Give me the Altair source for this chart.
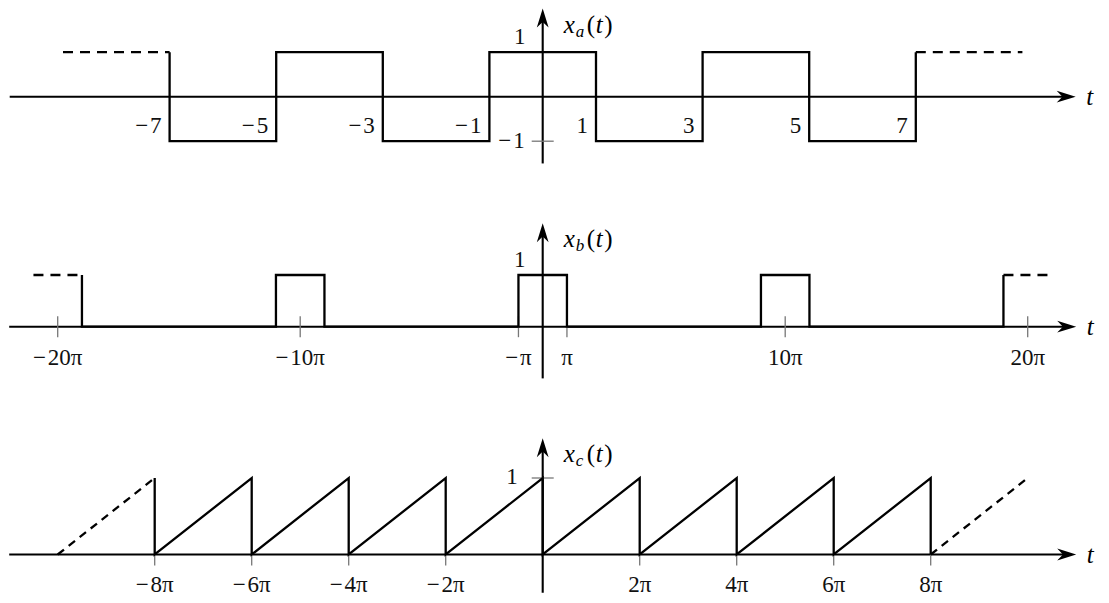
import altair as alt
import pandas as pd

# ---------------- data ----------------
# Panel (a): square wave x_a(t)
a_path_t = [-7, -7, -5, -5, -3, -3, -1, -1, 1, 1, 3, 3, 5, 5, 7, 7]
a_path_v = [1, -1, -1, 1, 1, -1, -1, 1, 1, -1, -1, 1, 1, -1, -1, 1]
a_dash_left_t = [-9, -7]
a_dash_left_v = [1, 1]
a_dash_right_t = [7, 9]
a_dash_right_v = [1, 1]
a_tick_t = [-7, -5, -3, -1, 1, 3, 5, 7]
a_tick_labels = ["−\u200a7", "−\u200a5", "−\u200a3", "−\u200a1", "1", "3", "5", "7"]
a_axis_t = [-10, 10]
a_axis_v = [-1.5, 1.98]
a_ytick_v = [-1]
a_ytick_labels = ["−\u200a1"]

# Panel (b): rectangular pulse train x_b(t), t in units of pi
b_path_t = [-19, -19, -11, -11, -9, -9, -1, -1, 1, 1, 9, 9, 11, 11, 19, 19]
b_path_v = [1, 0, 0, 1, 1, 0, 0, 1, 1, 0, 0, 1, 1, 0, 0, 1]
b_dash_left_t = [-21, -19]
b_dash_left_v = [1, 1]
b_dash_right_t = [19, 21]
b_dash_right_v = [1, 1]
b_tick_t = [-20, -10, -1, 1, 10, 20]
b_tick_labels = ["−\u200a20π", "−\u200a10π", "−\u200aπ", "π", "10π", "20π"]
b_axis_t = [-22, 22]
b_axis_v = [-1, 2]

# Panel (c): sawtooth x_c(t), t in units of pi
c_path_t = [-8, -8, -6, -6, -4, -4, -2, -2, 0, 0, 2, 2, 4, 4, 6, 6, 8, 8]
c_path_v = [1, 0, 1, 0, 1, 0, 1, 0, 1, 0, 1, 0, 1, 0, 1, 0, 1, 0]
c_dash_left_t = [-10, -8]
c_dash_left_v = [0, 1]
c_dash_right_t = [8, 10]
c_dash_right_v = [0, 1]
c_tick_t = [-8, -6, -4, -2, 2, 4, 6, 8]
c_tick_labels = ["−\u200a8π", "−\u200a6π", "−\u200a4π", "−\u200a2π", "2π", "4π", "6π", "8π"]
c_axis_t = [-11, 11]
c_axis_v = [-0.5, 1.52]
c_ytick_v = [1]
c_ytick_labels = ["1"]

# ---------------- layout helpers ----------------
W = 1090
PAGE_X0 = 8
FONT = "Liberation Serif"
FS = 23
ARROW_R = "M0,0 L-2,-0.62 L-1.4,0 L-2,0.62 Z"
ARROW_U = "M0,0 L-0.62,2 L0,1.4 L0.62,2 Z"
LW = 2.1


def dom_x(origin_px, ppu):
    return [(PAGE_X0 - origin_px) / ppu, (PAGE_X0 + W - origin_px) / ppu]


def dom_y(top_px, bottom_px, origin_px, ppu):
    return [(origin_px - bottom_px) / ppu, (origin_px - top_px) / ppu]


def panel(xd, yd, height, path_t, path_v, dashes, axis_t, axis_v, sub,
          dash_pattern, extra_layers_fn):
    xs = alt.Scale(domain=xd, nice=False, zero=False)
    ys = alt.Scale(domain=yd, nice=False, zero=False)

    def X(f="t"):
        return alt.X(f, type="quantitative", scale=xs, axis=None)

    def Y(f="v"):
        return alt.Y(f, type="quantitative", scale=ys, axis=None)

    layers = []
    hdf = pd.DataFrame({"t": [axis_t[0]], "t2": [axis_t[1]], "v": [0]})
    layers.append(alt.Chart(hdf).mark_rule(color="black", strokeWidth=LW, x2Offset=-11)
                  .encode(x=X(), x2="t2", y=Y()))
    layers.append(alt.Chart(pd.DataFrame({"t": [axis_t[1]], "v": [0]}))
                  .mark_point(shape=ARROW_R, size=361, filled=True, color="black", opacity=1)
                  .encode(x=X(), y=Y()))
    vdf = pd.DataFrame({"t": [0], "v": [axis_v[0]], "v2": [axis_v[1]]})
    layers.append(alt.Chart(vdf).mark_rule(color="black", strokeWidth=LW, y2Offset=11)
                  .encode(x=X(), y=Y(), y2="v2"))
    layers.append(alt.Chart(pd.DataFrame({"t": [0], "v": [axis_v[1]]}))
                  .mark_point(shape=ARROW_U, size=361, filled=True, color="black", opacity=1)
                  .encode(x=X(), y=Y()))
    layers += extra_layers_fn(X, Y)
    sdf = pd.DataFrame({"t": path_t, "v": path_v, "i": list(range(len(path_t)))})
    layers.append(alt.Chart(sdf).mark_line(color="black", strokeWidth=LW + 0.2,
                                           strokeJoin="miter", strokeCap="butt")
                  .encode(x=X(), y=Y(), order=alt.Order("i:Q")))
    for dt, dv in dashes:
        ddf = pd.DataFrame({"t": dt, "v": dv, "i": list(range(len(dt)))})
        layers.append(alt.Chart(ddf).mark_line(color="black", strokeWidth=LW + 0.2,
                                               strokeDash=dash_pattern, strokeCap="butt")
                      .encode(x=X(), y=Y(), order=alt.Order("i:Q")))
    layers.append(alt.Chart(pd.DataFrame({"t": [axis_t[1]], "v": [0], "s": ["t"]}))
                  .mark_text(font=FONT, fontSize=25, fontStyle="italic", dx=14,
                             align="center", baseline="middle", color="black")
                  .encode(x=X(), y=Y(), text="s:N"))
    parts = [("x", 25, 21, 0), (sub, 17, 33, 4), ("(", 25, 44, 0),
             ("t", 25, 53, 0), (")", 25, 61.5, 0)]
    for s, fs, dx, dyo in parts:
        style = "normal" if s in "()" else "italic"
        layers.append(alt.Chart(pd.DataFrame({"t": [0], "v": [axis_v[1]], "s": [s]}))
                      .mark_text(font=FONT, fontSize=fs, fontStyle=style, dx=dx, dy=24 + dyo,
                                 align="left", baseline="alphabetic", color="black")
                      .encode(x=X(), y=Y(), text="s:N"))
    return alt.layer(*layers).properties(width=W, height=height)


A_TOP, A_BOT = 8, 190
a_xd = dom_x(542.7, 53.3)
a_yd = dom_y(A_TOP, A_BOT, 96.7, 44.5)


def a_extra(X, Y):
    out = []
    ldf = pd.DataFrame({"t": a_tick_t, "v": [0] * len(a_tick_t), "s": a_tick_labels})
    out.append(alt.Chart(ldf).mark_text(font=FONT, fontSize=FS, align="right",
                                        baseline="middle", dx=-8, dy=29, color="#111")
               .encode(x=X(), y=Y(), text="s:N"))
    ydf = pd.DataFrame({"t": [0] * len(a_ytick_v), "v": a_ytick_v, "s": a_ytick_labels})
    out.append(alt.Chart(ydf).mark_tick(orient="horizontal", size=22, thickness=1.3,
                                        color="#777", opacity=1)
               .encode(x=X(), y=Y()))
    out.append(alt.Chart(ydf).mark_text(font=FONT, fontSize=FS, align="right",
                                        baseline="middle", dx=-18, dy=0, color="#111")
               .encode(x=X(), y=Y(), text="s:N"))
    one = pd.DataFrame({"t": [0], "v": [1], "s": ["1"]})
    out.append(alt.Chart(one).mark_text(font=FONT, fontSize=FS, align="center",
                                        baseline="middle", dx=-23, dy=-15, color="#111")
               .encode(x=X(), y=Y(), text="s:N"))
    return out


panel_a = panel(a_xd, a_yd, A_BOT - A_TOP, a_path_t, a_path_v,
                [(a_dash_left_t, a_dash_left_v), (a_dash_right_t, a_dash_right_v)],
                a_axis_t, a_axis_v, "a", [10, 7], a_extra)

B_TOP, B_BOT = 190, 400
b_xd = dom_x(542.7, 24.25)
b_yd = dom_y(B_TOP, B_BOT, 326.7, 51.7)


def b_extra(X, Y):
    out = []
    tdf = pd.DataFrame({"t": b_tick_t, "v": [0] * len(b_tick_t), "s": b_tick_labels})
    out.append(alt.Chart(tdf).mark_tick(orient="vertical", size=21, thickness=1.3,
                                        color="#777", opacity=1)
               .encode(x=X(), y=Y()))
    out.append(alt.Chart(tdf).mark_text(font=FONT, fontSize=FS, align="center",
                                        baseline="middle", dy=31, color="#111")
               .encode(x=X(), y=Y(), text="s:N"))
    one = pd.DataFrame({"t": [0], "v": [1], "s": ["1"]})
    out.append(alt.Chart(one).mark_text(font=FONT, fontSize=FS, align="center",
                                        baseline="middle", dx=-23, dy=-15, color="#111")
               .encode(x=X(), y=Y(), text="s:N"))
    return out


panel_b = panel(b_xd, b_yd, B_BOT - B_TOP, b_path_t, b_path_v,
                [(b_dash_left_t, b_dash_left_v), (b_dash_right_t, b_dash_right_v)],
                b_axis_t, b_axis_v, "b", [10, 7], b_extra)

C_TOP, C_BOT = 400, 595
c_xd = dom_x(542.7, 48.5)
c_yd = dom_y(C_TOP, C_BOT, 554.5, 76.5)


def c_extra(X, Y):
    out = []
    tdf = pd.DataFrame({"t": c_tick_t, "v": [0] * len(c_tick_t), "s": c_tick_labels})
    out.append(alt.Chart(tdf).mark_tick(orient="vertical", size=11, thickness=1.3,
                                        yOffset=5.5, color="#777", opacity=1)
               .encode(x=X(), y=Y()))
    out.append(alt.Chart(tdf).mark_text(font=FONT, fontSize=FS, align="center",
                                        baseline="middle", dy=30, color="#111")
               .encode(x=X(), y=Y(), text="s:N"))
    ydf = pd.DataFrame({"t": [0] * len(c_ytick_v), "v": c_ytick_v, "s": c_ytick_labels})
    out.append(alt.Chart(ydf).mark_tick(orient="horizontal", size=22, thickness=1.3,
                                        color="#777", opacity=1)
               .encode(x=X(), y=Y()))
    out.append(alt.Chart(ydf).mark_text(font=FONT, fontSize=FS, align="right",
                                        baseline="middle", dx=-25, dy=-1, color="#111")
               .encode(x=X(), y=Y(), text="s:N"))
    return out


panel_c = panel(c_xd, c_yd, C_BOT - C_TOP, c_path_t, c_path_v,
                [(c_dash_left_t, c_dash_left_v), (c_dash_right_t, c_dash_right_v)],
                c_axis_t, c_axis_v, "c", [8, 6], c_extra)

chart = (
    alt.vconcat(panel_a, panel_b, panel_c, spacing=0)
    .properties(padding=0, background="white")
    .configure_view(strokeWidth=0)
)

chart.save("out.html", embed_options={"renderer": "svg", "actions": False})
